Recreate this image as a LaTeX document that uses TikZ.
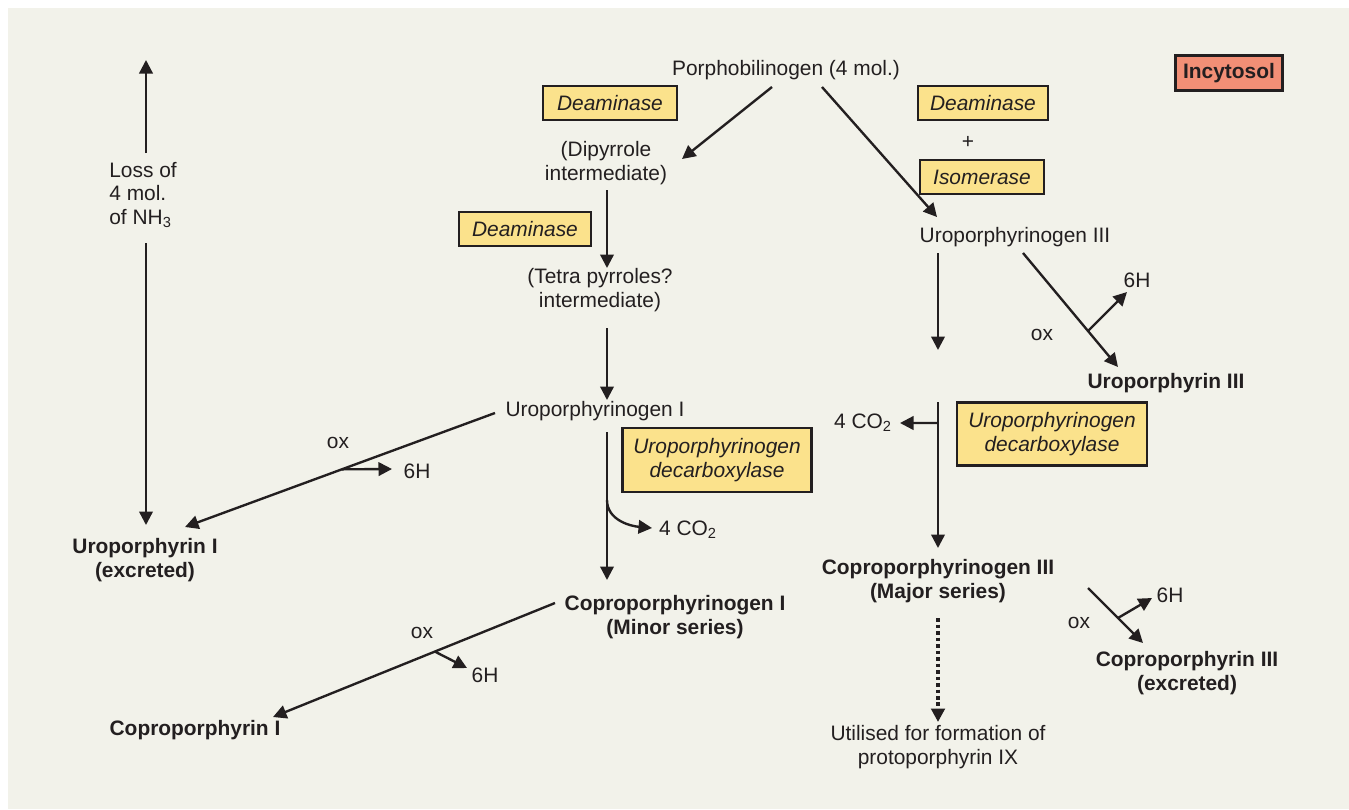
\documentclass[tikz,border=0pt]{standalone}
\usepackage{fontspec}
\setmainfont{Liberation Sans}
\usetikzlibrary{arrows.meta, calc}

\definecolor{panel}{HTML}{F2F2EA}
\definecolor{enzfill}{HTML}{FBE28C}
\definecolor{cytofill}{HTML}{F28F76}
\definecolor{ink}{HTML}{231F20}

\tikzset{
  arr/.style={-{Triangle[length=0.27cm,width=0.27cm]}, line width=1.35pt, draw=ink},
  lbl/.style={text=ink, inner sep=0pt, align=center, font=\fontsize{11.9}{13.6}\selectfont},
  prod/.style={lbl, font=\fontsize{11.9}{13.6}\selectfont\bfseries},
  enz/.style={lbl, draw=ink, line width=1.3pt, fill=enzfill, inner xsep=0.2cm,
    font=\fontsize{11.9}{13.6}\selectfont\itshape, minimum height=0.68cm},
}

\begin{document}
\begin{tikzpicture}[x=0.02cm, y=-0.02cm]
    \fill[white] (0,0) rectangle (1349,809);
    \fill[panel] (8,8) rectangle (1349,809);
    \useasboundingbox (0,0) rectangle (1349,809);

    % Nodes
    \node[lbl] (pbg) at (786,70) {Porphobilinogen (4 mol.)};
    \node[enz, minimum width=2.68cm] (deam1) at (610,103) {Deaminase};
    \node[enz, minimum width=2.6cm] (deam2) at (983,103) {Deaminase};
    \node[lbl] (plus) at (968,142) {+};
    \node[enz, minimum width=2.48cm] (isom) at (982,177) {Isomerase};
    \node[prod, draw=ink, line width=1.3pt, fill=cytofill, minimum width=2.14cm,
          minimum height=0.7cm] (cyto) at (1229,73) {Incytosol};
    \node[lbl] (dipyr) at (606,163) {(Dipyrrole\\intermediate)};
    \node[enz, minimum width=2.64cm] (deam3) at (525,229) {Deaminase};
    \node[lbl] (tetra) at (600,290) {(Tetra pyrroles?\\intermediate)};
    \node[lbl] (uroI) at (595,411) {Uroporphyrinogen I};
    \node[enz, minimum width=3.78cm, minimum height=1.28cm] (decarbL) at (717,460)
          {Uroporphyrinogen\\decarboxylase};
    \node[lbl] (uroIII) at (1015,237) {Uroporphyrinogen III};
    \node[prod] (uroIIIox) at (1166,383) {Uroporphyrin III};
    \node[lbl] (co2R) at (863,423) {4 CO\textsubscript{2}};
    \node[enz, minimum width=3.8cm, minimum height=1.26cm] (decarbR) at (1052,434)
          {Uroporphyrinogen\\decarboxylase};
    \node[prod] (coproIII) at (938,581) {Coproporphyrinogen III\\(Major series)};
    \node[lbl] (util) at (938,747) {Utilised for formation of\\protoporphyrin IX};
    \node[prod] (coproIIIox) at (1187,673) {Coproporphyrin III\\(excreted)};
    \node[prod] (coproI) at (675,617) {Coproporphyrinogen I\\(Minor series)};
    \node[prod] (coproIox) at (195,730) {Coproporphyrin I};
    \node[prod] (uroIox) at (145,560) {Uroporphyrin I\\(excreted)};
    \node[lbl, anchor=west, align=left] (nh3) at (109,195) {Loss of\\4 mol.\\of NH\textsubscript{3}};
    \node[lbl] (oxL1) at (338,443) {ox};
    \node[lbl] (h6L1) at (417,471) {6H};
    \node[lbl] (oxL2) at (422,633) {ox};
    \node[lbl] (h6L2) at (485,675) {6H};
    \node[lbl] (co2L) at (688,530) {4 CO\textsubscript{2}};
    \node[lbl] (oxR1) at (1042,335) {ox};
    \node[lbl] (h6R1) at (1137,280) {6H};
    \node[lbl] (oxR2) at (1079,623) {ox};
    \node[lbl] (h6R2) at (1170,595) {6H};

    % free ends
    \coordinate (nh3top) at (146,60);
    \coordinate (uroIIIend) at (938,350);
    \coordinate (decTop) at (938,402);
    \coordinate (coproIIIstart) at (1088,588);

    % Connectors
    \draw[arr] ($(pbg)+(-14,17)$) -- ($(dipyr)+(76,-4)$);
    \draw[arr] ($(pbg)+(36,17)$) -- ($(uroIII)+(-78,-20)$);
    \draw[arr] ($(dipyr)+(1,27)$) -- ($(tetra)+(7,-22)$);
    \draw[arr] ($(tetra)+(7,38)$) -- ($(uroI)+(12,-11)$);
    \draw[arr] ($(uroI)+(12,21)$) -- coordinate[pos=0.459] (cbrL) ($(coproI)+(-68,-37)$);
    \draw[arr] (cbrL) to[out=-90, in=175] ($(co2L)+(-36,-2)$);
    \draw[arr] ($(uroI)+(-100,2)$) -- coordinate[pos=0.494] (oxbrL1) ($(uroIox)+(40,-33)$);
    \draw[arr] (oxbrL1) -- ($(h6L1)+(-25,-2)$);
    \draw[arr] ($(nh3.west)+(37,-42)$) -- (nh3top);
    \draw[arr] ($(nh3.west)+(37,48)$) -- ($(uroIox)+(1,-35)$);
    \draw[arr] ($(uroIII)+(-77,16)$) -- (uroIIIend);
    \draw[arr] ($(uroIII)+(8,16)$) -- coordinate[pos=0.684] (oxbrR1) ($(uroIIIox)+(-48,-16)$);
    \draw[arr] (oxbrR1) -- ($(h6R1)+(-10,12)$);
    \draw[arr] (decTop) -- coordinate[pos=0.144] (cbrR) ($(coproIII)+(0,-33)$);
    \draw[arr] (cbrR) -- ($(co2R)+(37,0)$);
    \draw[arr, dash pattern=on 0.07cm off 0.06cm, line width=2pt]
        ($(coproIII)+(0,37)$) -- ($(util)+(0,-25)$);
    \draw[arr] (coproIIIstart) -- coordinate[pos=0.545] (oxbrR2) ($(coproIIIox)+(-44,-30)$);
    \draw[arr] (oxbrR2) -- ($(h6R2)+(-18,3)$);
    \draw[arr] ($(coproI)+(-120,-14)$) -- coordinate[pos=0.426] (oxbrL2) ($(coproIox)+(78,-13)$);
    \draw[arr] (oxbrL2) -- ($(h6L2)+(-18,-7)$);
\end{tikzpicture}
\end{document}
